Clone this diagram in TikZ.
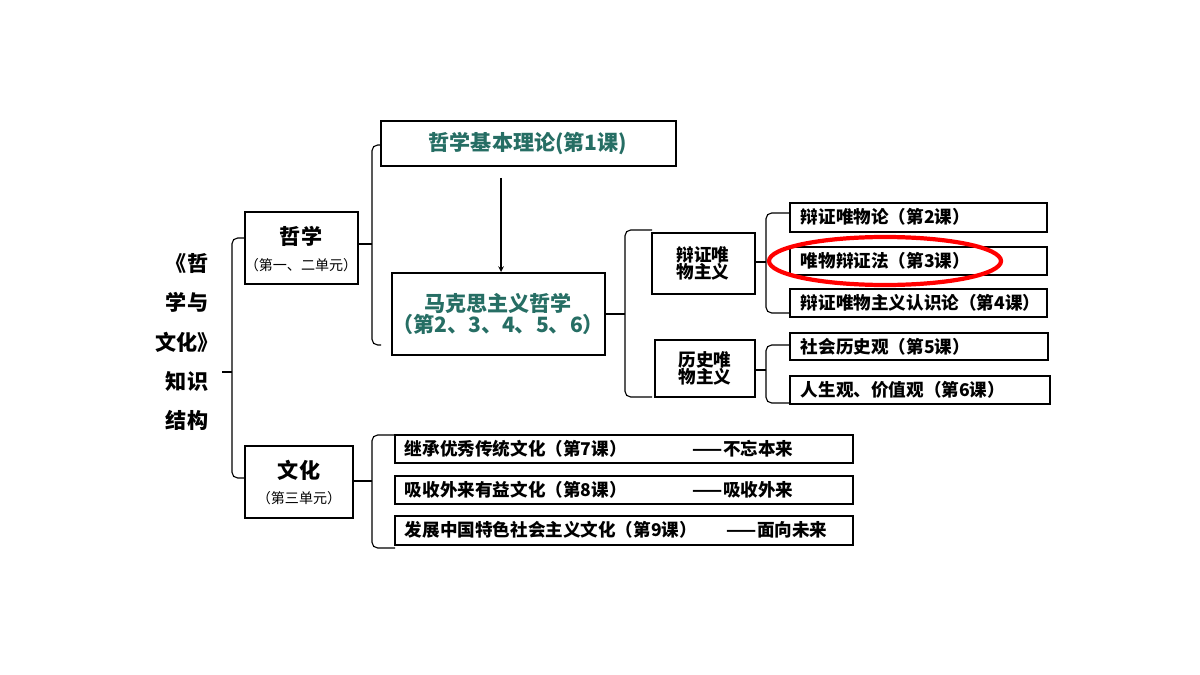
\documentclass[tikz,border=0pt]{standalone}
\usepackage{fontspec}
\setmainfont{Noto Sans CJK SC}
\usepackage{xcolor}
\usetikzlibrary{calc}
\definecolor{teal1}{RGB}{38,110,100}
\tikzset{
	box/.style={draw, thick, inner sep=0pt},
	lbl/.style={font=\bfseries\fontsize{12.5}{14}\selectfont, anchor=west},
	brk/.style={thick, rounded corners=4pt},
}
\begin{document}
\begin{tikzpicture}[x=0.025cm, y=-0.025cm]
			\useasboundingbox (0,0) rectangle (1200,675);
			\node[font=\bfseries\fontsize{15}{28}\selectfont, align=center](title) at (187,342)
			{《哲\\学与\\文化》\\知识\\结构};
			\draw [brk] (245,238) -- (232,238) -- (232,478) -- (245,478);
			\draw [thick] (232,372) -- (222,372);

			\draw [box] (245,212) rectangle (358,284);
			\node(zhexue) at (301,236) {\bfseries\fontsize{15}{18}\selectfont 哲学};
			\node at (301,265) {\fontsize{10}{12}\selectfont （第一、二单元）};
			\draw [box] (245,446) rectangle (353,518);
			\node(wenhua) at (299,470) {\bfseries\fontsize{15}{18}\selectfont 文化};
			\node at (299,498) {\fontsize{10}{12}\selectfont （第三单元）};

			\draw [brk] (381,145) -- (372,145) -- (372,345) -- (381,345);
			\draw [thick] (372,244) -- (358,244);
			\draw [box] (381,121) rectangle (676,166);
			\node(jiben) [text=teal1] at (528,144) {\bfseries\fontsize{15}{18}\selectfont 哲学基本理论(第1课)};
			\draw [box] (392,273) rectangle (605,355);
			\node(makesi) [text=teal1, align=center] at (498,314)
			{\bfseries\fontsize{15}{26}\selectfont 马克思主义哲学\\\bfseries\fontsize{15}{26}\selectfont （第2、3、4、5、6）};
			\draw [thick, ->, >=stealth] (501,178) -- (501,272);

			\draw [brk] (652,230) -- (625,230) -- (625,397) -- (652,397);
			\draw [thick] (625,314) -- (605,314);
			\draw [box] (652,233) rectangle (755,294);
			\node(bianzheng) [align=center] at (703,263) {\bfseries\fontsize{12.5}{25}\selectfont 辩证唯\\\bfseries\fontsize{12.5}{25}\selectfont 物主义};
			\draw [box] (655,340) rectangle (755,397);
			\node(lishi) [align=center] at (705,368) {\bfseries\fontsize{12.5}{25}\selectfont 历史唯\\\bfseries\fontsize{12.5}{25}\selectfont 物主义};

			\draw [brk] (790,213) -- (766,213) -- (766,313) -- (790,313);
			\draw [thick] (766,262) -- (755,262);
			\draw [box] (790,203) rectangle (1047,232);
			\node[lbl](k2) at (796,217) {辩证唯物论（第2课）};
			\draw [box] (790,247) rectangle (1047,275);
			\node[lbl](k3) at (796,261) {唯物辩证法（第3课）};
			\draw [box] (790,289) rectangle (1047,317);
			\node[lbl](k4) at (796,303) {辩证唯物主义认识论（第4课）};

			\draw [brk] (790,345) -- (766,345) -- (766,403) -- (790,403);
			\draw [thick] (766,370) -- (755,370);
			\draw [box] (790,333) rectangle (1048,360);
			\node[lbl](k5) at (796,347) {社会历史观（第5课）};
			\draw [box] (790,376) rectangle (1050,404);
			\node[lbl](k6) at (796,390) {人生观、价值观（第6课）};

			\draw [red, line width=3pt] (885,261) ellipse [x radius=116, y radius=24];

			\draw [brk] (395,435) -- (372,435) -- (372,548) -- (395,548);
			\draw [thick] (372,481) -- (353,481);
			\draw [box] (395,435) rectangle (853,463);
			\node[lbl](k7) at (400,449) {继承优秀传统文化（第7课）};
			\node[lbl] at (688,449) {——不忘本来};
			\draw [box] (395,476) rectangle (853,504);
			\node[lbl](k8) at (400,490) {吸收外来有益文化（第8课）};
			\node[lbl] at (688,490) {——吸收外来};
			\draw [box] (395,516) rectangle (853,545);
			\node[lbl](k9) at (400,530) {发展中国特色社会主义文化（第9课）};
			\node[lbl] at (722,530) {——面向未来};
		\end{tikzpicture}
\end{document}
